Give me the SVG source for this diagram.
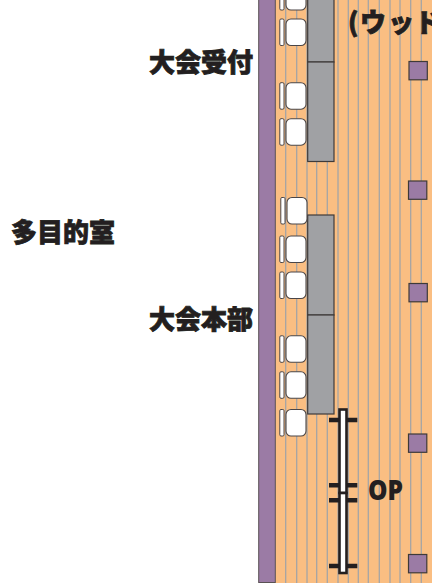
<svg xmlns="http://www.w3.org/2000/svg" width="432" height="585" viewBox="0 0 432 585">
<style>
.t{font-family:"Noto Sans CJK JP","Noto Sans",sans-serif;font-weight:900;font-size:26px;fill:#231f20;stroke:#231f20;stroke-width:.8}
.line{stroke:#a5a5a5;stroke-width:1.3;fill:none}
.table{fill:#a0a1a4;stroke:#3e3a39;stroke-width:1.2}
.back{fill:#fff;stroke:#4a4546;stroke-width:1}
.seat{fill:#fff;stroke:#4a4546;stroke-width:1.1}
.pillar{fill:#9b7ba5;stroke:#3e3a39;stroke-width:1.2}
.tick{stroke:#231f20;stroke-width:4.5;fill:none}
.door{fill:#fff;stroke:#231f20;stroke-width:2.6}
</style>
<defs>
<g id="chair"><rect class="back" x="279.8" y="0" width="4.2" height="26.5" rx="1.2"/><rect class="seat" x="286" y="0" width="20" height="26.5" rx="5"/></g>
</defs>
<g id="floor"><rect x="275" y="0" width="157" height="583" fill="#fabe82"/>
<path class="line" d="M285.7 0V583M296.7 0V583M307 0V583M316.7 0V583M327.3 0V583M338 0V583M348.3 0V583M358.3 0V583M368.3 0V583M379.3 0V583M390 0V583M400 0V583M410.7 0V583M421.3 0V583"/></g>
<rect id="wall" x="258.7" y="-2" width="16.6" height="584.5" fill="#9b7ba5" stroke="#5a5254" stroke-width="1"/>
<g id="tables">
<rect class="table" x="307.7" y="-5" width="26.3" height="67"/>
<rect class="table" x="307.7" y="62" width="26.3" height="99.5"/>
<rect class="table" x="307.7" y="215" width="26.3" height="100"/>
<rect class="table" x="307.7" y="315" width="26.3" height="99"/>
</g>
<g id="chairs">
<use href="#chair" y="-16.5"/><use href="#chair" y="19"/><use href="#chair" y="82.7"/><use href="#chair" y="118.7"/>
<use href="#chair" x="1" y="197.5"/><use href="#chair" y="236"/><use href="#chair" y="272"/><use href="#chair" y="335.8"/><use href="#chair" y="371.8"/><use href="#chair" y="409.5"/>
</g>
<g id="pillars">
<rect class="pillar" x="409" y="61.5" width="18.3" height="18.3"/>
<rect class="pillar" x="408.5" y="181" width="18.3" height="18.3"/>
<rect class="pillar" x="409" y="283.5" width="18.3" height="18.3"/>
<rect class="pillar" x="408.5" y="434" width="18.3" height="18.3"/>
<rect class="pillar" x="408.5" y="554.5" width="18.3" height="18.3"/>
</g>
<g id="door">
<path class="tick" d="M329 420H357.3M329 485.3H357.3M329 500.3H357.3M329 566H357.3"/>
<rect class="door" x="339.5" y="409.5" width="7" height="83.5"/>
<rect class="door" x="339.5" y="493" width="7" height="80"/>
</g>
<g id="labels">
<text class="t" x="149" y="72">大会受付</text>
<text class="t" x="11" y="242">多目的室</text>
<text class="t" x="149" y="329">大会本部</text>
<text x="368" y="499.5" font-family="'Open Sans',sans-serif" font-weight="800" font-size="29" fill="#231f20" textLength="35" lengthAdjust="spacingAndGlyphs">OP</text>
<text class="t" x="348 360 388 415" y="32">(ウッド</text>
</g>
</svg>
